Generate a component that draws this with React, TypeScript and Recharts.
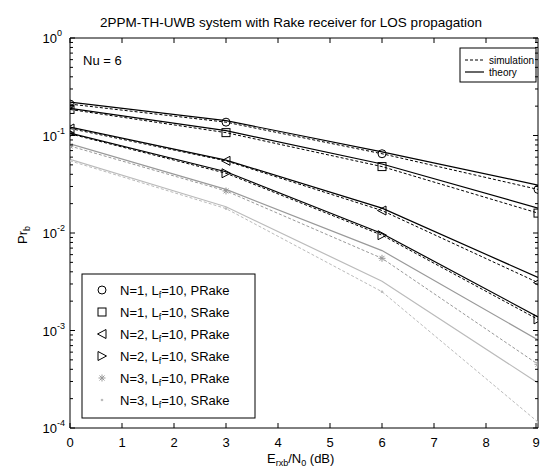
import { LineChart, Line, XAxis, YAxis } from "recharts";

// Eb/N0 points (dB)
const snr = [0, 3, 6, 9];

// N=1, Lf=10
const simN1P = [0.21, 0.137, 0.065, 0.028];
const thN1P = [0.22, 0.142, 0.068, 0.031];
const simN1S = [0.185, 0.107, 0.048, 0.016];
const thN1S = [0.19, 0.112, 0.051, 0.018];
// N=2, Lf=10
const simN2P = [0.118, 0.055, 0.017, 0.0031];
const thN2P = [0.122, 0.056, 0.018, 0.0035];
const simN2S = [0.104, 0.041, 0.0095, 0.0013];
const thN2S = [0.106, 0.0425, 0.0099, 0.00138];
// N=3, Lf=10
const simN3P = [0.078, 0.027, 0.0055, 0.00045];
const thN3P = [0.082, 0.028, 0.0066, 0.0008];
const simN3S = [0.055, 0.0178, 0.0025, 0.000115];
const thN3S = [0.057, 0.0186, 0.0032, 0.00029];

const xTicks = [0, 1, 2, 3, 4, 5, 6, 7, 8, 9];
const yMajor = [1e-4, 1e-3, 1e-2, 1e-1, 1];
const yExp = ["-4", "-3", "-2", "-1", "0"];
const yMinor = [1e-4, 1e-3, 1e-2, 1e-1].flatMap((d) =>
  [2, 3, 4, 5, 6, 7, 8, 9].map((m) => d * m)
);
const yAll = [...yMajor, ...yMinor].sort((a, b) => a - b);

const series = [
  { key: "n1p", n: "N=1", rake: "PRake", sim: simN1P, th: thN1P, color: "#000", marker: "circle" },
  { key: "n1s", n: "N=1", rake: "SRake", sim: simN1S, th: thN1S, color: "#000", marker: "square" },
  { key: "n2p", n: "N=2", rake: "PRake", sim: simN2P, th: thN2P, color: "#000", marker: "left" },
  { key: "n2s", n: "N=2", rake: "SRake", sim: simN2S, th: thN2S, color: "#000", marker: "right" },
  { key: "n3p", n: "N=3", rake: "PRake", sim: simN3P, th: thN3P, color: "#999", marker: "star" },
  { key: "n3s", n: "N=3", rake: "SRake", sim: simN3S, th: thN3S, color: "#bbb", marker: "dot" },
];

const rows = snr.map((x, i) => {
  const r: any = { x };
  series.forEach((s) => {
    r[s.key + "Sim"] = s.sim[i];
    r[s.key + "Th"] = s.th[i];
  });
  return r;
});

const FONT = "'Liberation Sans', Arial, Helvetica, sans-serif";

function Marker({ cx, cy, shape, color }: any) {
  const st = { fill: "none", stroke: color, strokeWidth: 1 };
  switch (shape) {
    case "circle":
      return <circle cx={cx} cy={cy} r={4} {...st} />;
    case "square":
      return <rect x={cx - 4} y={cy - 4} width={8} height={8} {...st} />;
    case "left":
      return <polygon points={`${cx - 4.5},${cy} ${cx + 4},${cy - 4.5} ${cx + 4},${cy + 4.5}`} {...st} />;
    case "right":
      return <polygon points={`${cx + 4.5},${cy} ${cx - 4},${cy - 4.5} ${cx - 4},${cy + 4.5}`} {...st} />;
    case "star":
      return (
        <g stroke={color} strokeWidth={1}>
          <line x1={cx - 3.5} y1={cy} x2={cx + 3.5} y2={cy} />
          <line x1={cx} y1={cy - 3.5} x2={cx} y2={cy + 3.5} />
          <line x1={cx - 2.5} y1={cy - 2.5} x2={cx + 2.5} y2={cy + 2.5} />
          <line x1={cx - 2.5} y1={cy + 2.5} x2={cx + 2.5} y2={cy - 2.5} />
        </g>
      );
    default:
      return <circle cx={cx} cy={cy} r={1.3} fill={color} />;
  }
}

const isMajor = (v: number) => yMajor.findIndex((m) => Math.abs(m - v) < m * 1e-6);

// left axis: label for decades, inward tick for every decade/minor value
const LeftTick = ({ x, y, payload }: any) => {
  const i = isMajor(payload.value);
  const len = i >= 0 ? 5 : 3;
  return (
    <g fontFamily={FONT} fill="#000">
      <line x1={x} y1={y} x2={x + len} y2={y} stroke="#000" />
      {i >= 0 && (
        <>
          <text x={x - 13} y={y + 5} textAnchor="end" fontSize={13}>10</text>
          <text x={x - 13} y={y - 2} textAnchor="start" fontSize={9}>{yExp[i]}</text>
        </>
      )}
    </g>
  );
};

const RightTick = ({ x, y, payload }: any) => {
  const len = isMajor(payload.value) >= 0 ? 5 : 3;
  return <line x1={x} y1={y} x2={x - len} y2={y} stroke="#000" />;
};

const BottomTick = ({ x, y, payload }: any) => (
  <g>
    <line x1={x} y1={y} x2={x} y2={y - 5} stroke="#000" />
    <text x={x} y={y + 19} textAnchor="middle" fontSize={13} fontFamily={FONT} fill="#000">
      {payload.value}
    </text>
  </g>
);

const TopTick = ({ x, y }: any) => <line x1={x} y1={y} x2={x} y2={y + 5} stroke="#000" />;

export default function App() {
  return (
    <div style={{ position: "absolute", left: 0, top: 0, background: "#fff" }}>
      <LineChart width={540} height={470} data={rows} margin={{ top: 37, right: 1, bottom: 41, left: 69 }}>
        <XAxis xAxisId="b" dataKey="x" type="number" domain={[0, 9]} ticks={xTicks} allowDataOverflow
          height={1} tickSize={0} tickMargin={0} tickLine={false} axisLine={{ stroke: "#000" }} tick={<BottomTick />} />
        <XAxis xAxisId="t" orientation="top" dataKey="x" type="number" domain={[0, 9]} ticks={xTicks} allowDataOverflow
          height={1} tickSize={0} tickMargin={0} tickLine={false} axisLine={{ stroke: "#000" }} tick={<TopTick />} />

        <YAxis yAxisId="l" type="number" scale="log" domain={[1e-4, 1]} ticks={yAll} interval={0} allowDataOverflow
          width={1} tickSize={0} tickMargin={0} tickLine={false} axisLine={{ stroke: "#000" }} tick={<LeftTick />} />
        <YAxis yAxisId="r" orientation="right" type="number" scale="log" domain={[1e-4, 1]} ticks={yAll} interval={0} allowDataOverflow
          width={1} tickSize={0} tickMargin={0} tickLine={false} axisLine={{ stroke: "#000" }} tick={<RightTick />} />

        {series.map((s) => (
          <Line key={s.key + "Th"} xAxisId="b" yAxisId="l" type="linear" dataKey={s.key + "Th"}
            stroke={s.color} strokeWidth={1.2} dot={false} isAnimationActive={false} />
        ))}
        {series.map((s) => (
          <Line key={s.key + "Sim"} xAxisId="b" yAxisId="l" type="linear" dataKey={s.key + "Sim"}
            stroke={s.color} strokeWidth={1} strokeDasharray="3 2" isAnimationActive={false}
            dot={(p: any) => (
              <g key={`${s.key}-${p.index}`}>
                <Marker cx={p.cx} cy={p.cy} shape={s.marker} color={s.color} />
              </g>
            )} />
        ))}

        {/* title and labels */}
        <text x={291} y={27} textAnchor="middle" fontSize={13.5} fontFamily={FONT} fill="#000">
          2PPM-TH-UWB system with Rake receiver for LOS propagation
        </text>
        <text x={83} y={65} fontSize={13} fontFamily={FONT} fill="#000">Nu = 6</text>
        <text x={267} y={463} fontSize={13} fontFamily={FONT} fill="#000">
          E<tspan fontSize={9} dy={3}>rxb</tspan>
          <tspan dy={-3}>/N</tspan>
          <tspan fontSize={9} dy={3}>0</tspan>
          <tspan dy={-3}> (dB)</tspan>
        </text>
        <text x={27} y={235} transform="rotate(-90 27 235)" textAnchor="middle" fontSize={13} fontFamily={FONT} fill="#000">
          Pr<tspan fontSize={9} dy={3}>b</tspan>
        </text>

        {/* line style legend */}
        <g fontFamily={FONT} fontSize={10} fill="#000">
          <rect x={460} y={48} width={76} height={34} fill="#fff" stroke="#000" />
          <line x1={465} y1={60} x2={484} y2={60} stroke="#000" strokeDasharray="3 2" />
          <text x={489} y={64}>simulation</text>
          <line x1={465} y1={72} x2={484} y2={72} stroke="#000" strokeWidth={1.2} />
          <text x={489} y={76}>theory</text>
        </g>

        {/* marker legend */}
        <g fontFamily={FONT} fontSize={13} fill="#000">
          <rect x={82} y={274} width={173} height={144} fill="#fff" stroke="#000" />
          {series.map((s, i) => (
            <g key={s.key}>
              <Marker cx={102} cy={290 + i * 22} shape={s.marker} color={s.color} />
              <text x={120} y={295 + i * 22}>
                {s.n}, L<tspan fontSize={9} dy={3}>f</tspan>
                <tspan dy={-3}>=10, {s.rake}</tspan>
              </text>
            </g>
          ))}
        </g>
      </LineChart>
    </div>
  );
}
